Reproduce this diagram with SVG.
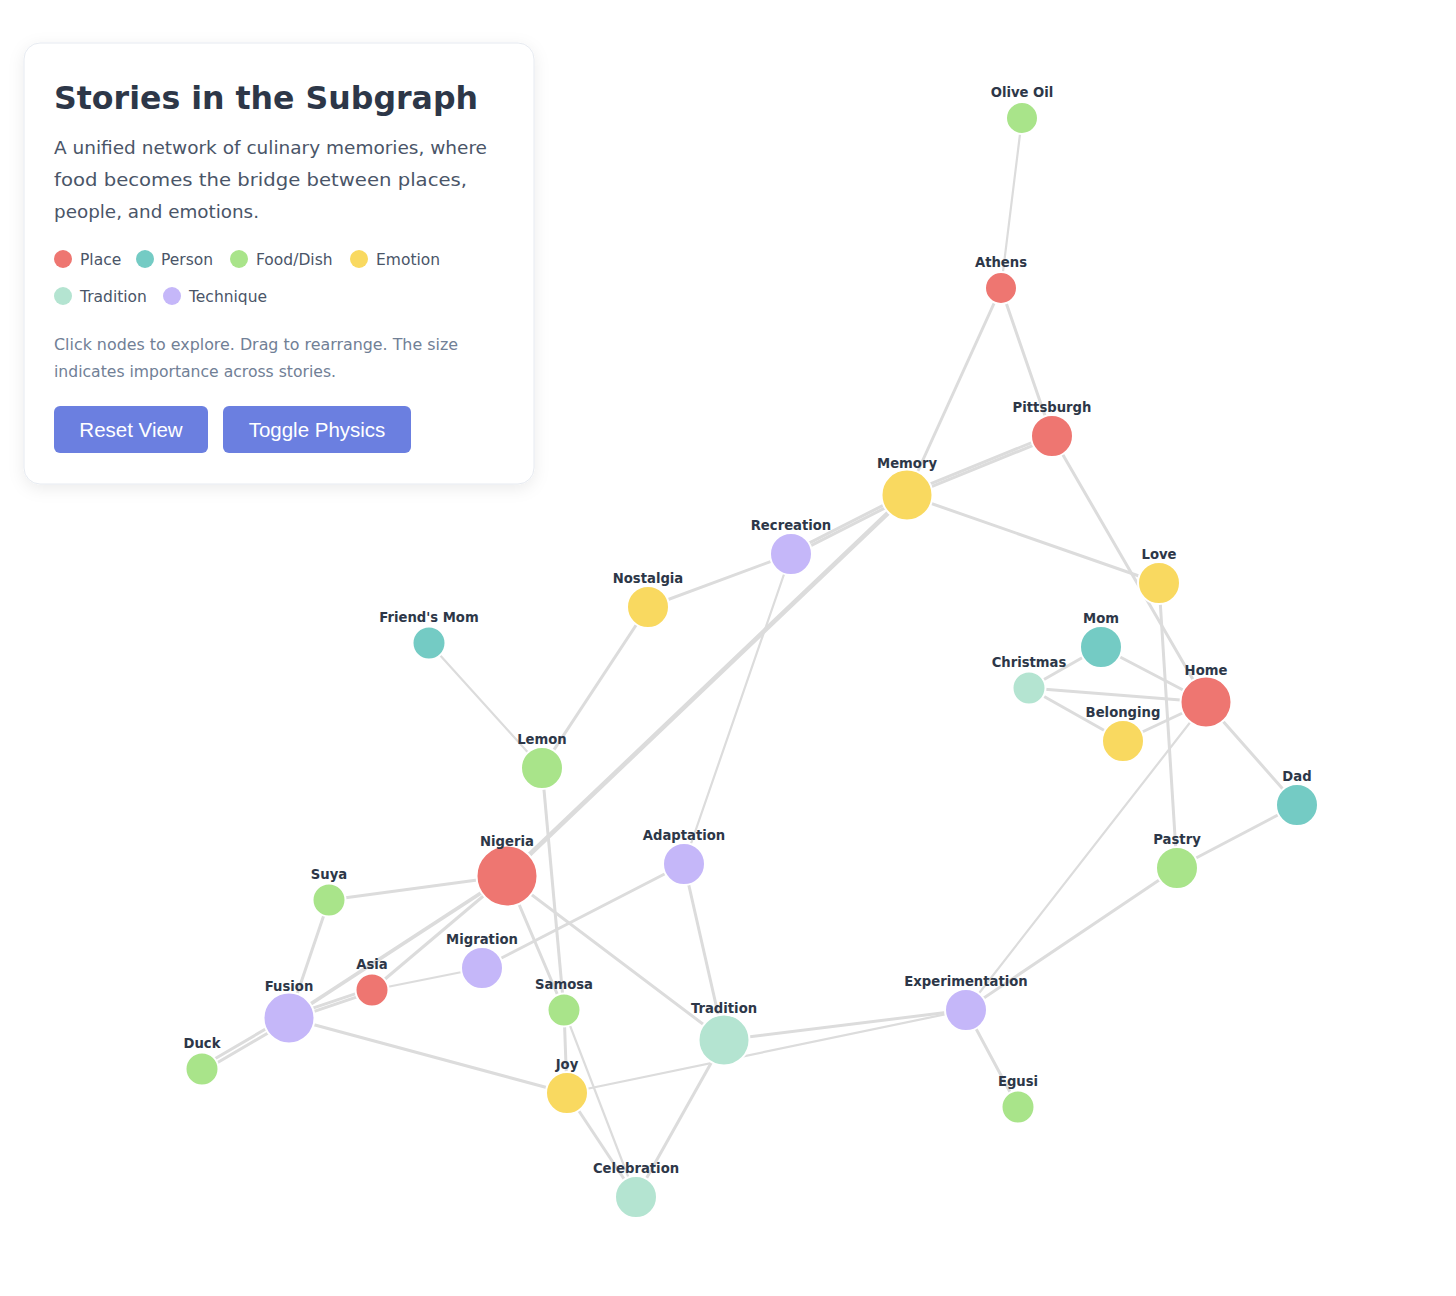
<svg xmlns="http://www.w3.org/2000/svg" width="1456" height="1296" viewBox="0 0 1456 1296">
<defs>
<filter id="shadow" x="-10%" y="-10%" width="120%" height="125%">
<feDropShadow dx="0" dy="4" stdDeviation="8" flood-color="#000" flood-opacity="0.08"/>
</filter>
<style>
.edge{stroke:#dcdcdc;stroke-width:3;fill:none;stroke-linecap:round}
.thin{stroke-width:2.2}
.node{stroke:#fff;stroke-width:2}
.place{fill:#ee7671}
.person{fill:#74cbc4}
.food{fill:#a9e48a}
.emotion{fill:#f9d960}
.tradition{fill:#b4e4d1}
.technique{fill:#c5b7f9}
.lbl{font-family:"DejaVu Sans",Verdana,sans-serif;font-weight:bold;font-size:13.2px;fill:#2d3748;text-anchor:middle}
.title{font-family:"DejaVu Sans",Verdana,sans-serif;font-weight:bold;font-size:32px;fill:#2d3748}
.desc{font-family:"DejaVu Sans",Verdana,sans-serif;font-size:18px;fill:#4a5568}
.leg{font-family:"DejaVu Sans",Verdana,sans-serif;font-size:15.5px;fill:#4a5568}
.hint{font-family:"DejaVu Sans",Verdana,sans-serif;font-size:15px;fill:#718096}
.btn{fill:#6b7fe0}
.btxt{font-family:"Liberation Sans",Arial,sans-serif;font-size:20.5px;fill:#fff;text-anchor:middle}
</style>
</defs>
<rect width="1456" height="1296" fill="#fff"/>

<g id="panel">
<rect x="24" y="43" width="510" height="441" rx="16" fill="#fff" stroke="#e6eaf0" stroke-width="1" filter="url(#shadow)"/>
<text class="title" x="54" y="109" textLength="424" lengthAdjust="spacingAndGlyphs">Stories in the Subgraph</text>
<text class="desc" x="54" y="154" textLength="433" lengthAdjust="spacingAndGlyphs">A unified network of culinary memories, where</text>
<text class="desc" x="54" y="186" textLength="413" lengthAdjust="spacingAndGlyphs">food becomes the bridge between places,</text>
<text class="desc" x="54" y="218" textLength="205" lengthAdjust="spacingAndGlyphs">people, and emotions.</text>
<circle class="place" cx="63" cy="259" r="9"/><text class="leg" x="80" y="265">Place</text>
<circle class="person" cx="145" cy="259" r="9"/><text class="leg" x="161" y="265">Person</text>
<circle class="food" cx="239" cy="259" r="9"/><text class="leg" x="256" y="265">Food/Dish</text>
<circle class="emotion" cx="359" cy="259" r="9"/><text class="leg" x="376" y="265">Emotion</text>
<circle class="tradition" cx="63" cy="296" r="9"/><text class="leg" x="80" y="302">Tradition</text>
<circle class="technique" cx="172" cy="296" r="9"/><text class="leg" x="189" y="302">Technique</text>
<text class="hint" x="54" y="350" textLength="404" lengthAdjust="spacingAndGlyphs">Click nodes to explore. Drag to rearrange. The size</text>
<text class="hint" x="54" y="377" textLength="282" lengthAdjust="spacingAndGlyphs">indicates importance across stories.</text>
<g id="btn-reset"><rect class="btn" x="54" y="406" width="154" height="47" rx="6"/><text class="btxt" x="131" y="437">Reset View</text></g>
<g id="btn-physics"><rect class="btn" x="223" y="406" width="188" height="47" rx="6"/><text class="btxt" x="317" y="437">Toggle Physics</text></g>
</g>

<g id="edges">
<line class="edge thin" x1="1022" y1="118" x2="1001" y2="288"/>
<line class="edge" x1="1001" y1="288" x2="907" y2="495"/>
<line class="edge" x1="1001" y1="288" x2="1052" y2="436"/>
<line class="edge" x1="906.4" y1="493.6" x2="1051.4" y2="434.6"/>
<line class="edge" x1="907.6" y1="496.4" x2="1052.6" y2="437.4"/>
<line class="edge" x1="1052" y1="436" x2="1206" y2="702"/>
<line class="edge" x1="907" y1="495" x2="1159" y2="583"/>
<line class="edge" x1="906.3" y1="493.6" x2="790.3" y2="552.6"/>
<line class="edge" x1="907.7" y1="496.4" x2="791.7" y2="555.4"/>
<line class="edge" x1="906.4" y1="494.4" x2="506.4" y2="875.4"/>
<line class="edge" x1="907.6" y1="495.6" x2="507.6" y2="876.6"/>
<line class="edge" x1="791" y1="554" x2="648" y2="607"/>
<line class="edge thin" x1="791" y1="554" x2="684" y2="864"/>
<line class="edge" x1="648" y1="607" x2="542" y2="768"/>
<line class="edge thin" x1="429" y1="643" x2="542" y2="768"/>
<line class="edge" x1="542" y1="768" x2="564" y2="1010"/>
<line class="edge" x1="1159" y1="583" x2="1177" y2="868"/>
<line class="edge" x1="1101" y1="647" x2="1029" y2="688"/>
<line class="edge" x1="1101" y1="647" x2="1206" y2="702"/>
<line class="edge" x1="1029" y1="688" x2="1206" y2="702"/>
<line class="edge" x1="1029" y1="688" x2="1123" y2="741"/>
<line class="edge" x1="1123" y1="741" x2="1206" y2="702"/>
<line class="edge" x1="1206" y1="702" x2="1297" y2="805"/>
<line class="edge thin" x1="1206" y1="702" x2="966" y2="1010"/>
<line class="edge" x1="1297" y1="805" x2="1177" y2="868"/>
<line class="edge" x1="1177" y1="868" x2="966" y2="1010"/>
<line class="edge" x1="966" y1="1010" x2="1018" y2="1107"/>
<line class="edge" x1="966" y1="1010" x2="724" y2="1040"/>
<line class="edge thin" x1="966" y1="1010" x2="567" y2="1093"/>
<line class="edge" x1="724" y1="1040" x2="636" y2="1197"/>
<line class="edge" x1="724" y1="1040" x2="684" y2="864"/>
<line class="edge" x1="507" y1="876" x2="724" y2="1040"/>
<line class="edge" x1="507" y1="876" x2="564" y2="1010"/>
<line class="edge" x1="507" y1="876" x2="329" y2="900"/>
<line class="edge" x1="507" y1="876" x2="289" y2="1018" style="stroke-width:3.8"/>
<line class="edge" x1="507" y1="876" x2="372" y2="990"/>
<line class="edge" x1="288.4" y1="1016.3" x2="371.4" y2="988.3"/>
<line class="edge" x1="289.6" y1="1019.7" x2="372.6" y2="991.7"/>
<line class="edge thin" x1="372" y1="990" x2="482" y2="968"/>
<line class="edge" x1="482" y1="968" x2="684" y2="864"/>
<line class="edge" x1="329" y1="900" x2="289" y2="1018"/>
<line class="edge" x1="287.8" y1="1016" x2="200.8" y2="1067"/>
<line class="edge" x1="290.2" y1="1020" x2="203.2" y2="1071"/>
<line class="edge" x1="289" y1="1018" x2="567" y2="1093"/>
<line class="edge" x1="564" y1="1010" x2="567" y2="1093"/>
<line class="edge thin" x1="564" y1="1010" x2="636" y2="1197"/>
<line class="edge" x1="567" y1="1093" x2="636" y2="1197"/>
</g>

<g id="node-olive-oil"><circle class="node food" cx="1022" cy="118" r="16"/><text class="lbl" x="1022" y="96.5">Olive Oil</text></g>
<g id="node-athens"><circle class="node place" cx="1001" cy="288" r="16"/><text class="lbl" x="1001" y="266.5">Athens</text></g>
<g id="node-pittsburgh"><circle class="node place" cx="1052" cy="436" r="21"/><text class="lbl" x="1052" y="411.5">Pittsburgh</text></g>
<g id="node-memory"><circle class="node emotion" cx="907" cy="495" r="25.5"/><text class="lbl" x="907" y="468">Memory</text></g>
<g id="node-recreation"><circle class="node technique" cx="791" cy="554" r="21"/><text class="lbl" x="791" y="529.5">Recreation</text></g>
<g id="node-love"><circle class="node emotion" cx="1159" cy="583" r="21"/><text class="lbl" x="1159" y="558.5">Love</text></g>
<g id="node-nostalgia"><circle class="node emotion" cx="648" cy="607" r="21"/><text class="lbl" x="648" y="582.5">Nostalgia</text></g>
<g id="node-friends-mom"><circle class="node person" cx="429" cy="643" r="16.5"/><text class="lbl" x="429" y="621.5">Friend's Mom</text></g>
<g id="node-mom"><circle class="node person" cx="1101" cy="647" r="21"/><text class="lbl" x="1101" y="622.5">Mom</text></g>
<g id="node-christmas"><circle class="node tradition" cx="1029" cy="688" r="16.5"/><text class="lbl" x="1029" y="666.5">Christmas</text></g>
<g id="node-home"><circle class="node place" cx="1206" cy="702" r="25.5"/><text class="lbl" x="1206" y="675">Home</text></g>
<g id="node-belonging"><circle class="node emotion" cx="1123" cy="741" r="21"/><text class="lbl" x="1123" y="716.5">Belonging</text></g>
<g id="node-lemon"><circle class="node food" cx="542" cy="768" r="21"/><text class="lbl" x="542" y="743.5">Lemon</text></g>
<g id="node-dad"><circle class="node person" cx="1297" cy="805" r="21"/><text class="lbl" x="1297" y="780.5">Dad</text></g>
<g id="node-nigeria"><circle class="node place" cx="507" cy="876" r="30.5"/><text class="lbl" x="507" y="846">Nigeria</text></g>
<g id="node-adaptation"><circle class="node technique" cx="684" cy="864" r="21"/><text class="lbl" x="684" y="839.5">Adaptation</text></g>
<g id="node-pastry"><circle class="node food" cx="1177" cy="868" r="21"/><text class="lbl" x="1177" y="843.5">Pastry</text></g>
<g id="node-suya"><circle class="node food" cx="329" cy="900" r="16.5"/><text class="lbl" x="329" y="878.5">Suya</text></g>
<g id="node-migration"><circle class="node technique" cx="482" cy="968" r="21"/><text class="lbl" x="482" y="943.5">Migration</text></g>
<g id="node-asia"><circle class="node place" cx="372" cy="990" r="16.5"/><text class="lbl" x="372" y="968.5">Asia</text></g>
<g id="node-fusion"><circle class="node technique" cx="289" cy="1018" r="25.5"/><text class="lbl" x="289" y="991">Fusion</text></g>
<g id="node-samosa"><circle class="node food" cx="564" cy="1010" r="16.5"/><text class="lbl" x="564" y="988.5">Samosa</text></g>
<g id="node-experimentation"><circle class="node technique" cx="966" cy="1010" r="21"/><text class="lbl" x="966" y="985.5">Experimentation</text></g>
<g id="node-tradition"><circle class="node tradition" cx="724" cy="1040" r="25.5"/><text class="lbl" x="724" y="1013">Tradition</text></g>
<g id="node-duck"><circle class="node food" cx="202" cy="1069" r="16.5"/><text class="lbl" x="202" y="1047.5">Duck</text></g>
<g id="node-joy"><circle class="node emotion" cx="567" cy="1093" r="21"/><text class="lbl" x="567" y="1068.5">Joy</text></g>
<g id="node-egusi"><circle class="node food" cx="1018" cy="1107" r="16.5"/><text class="lbl" x="1018" y="1085.5">Egusi</text></g>
<g id="node-celebration"><circle class="node tradition" cx="636" cy="1197" r="21"/><text class="lbl" x="636" y="1172.5">Celebration</text></g>
</svg>
